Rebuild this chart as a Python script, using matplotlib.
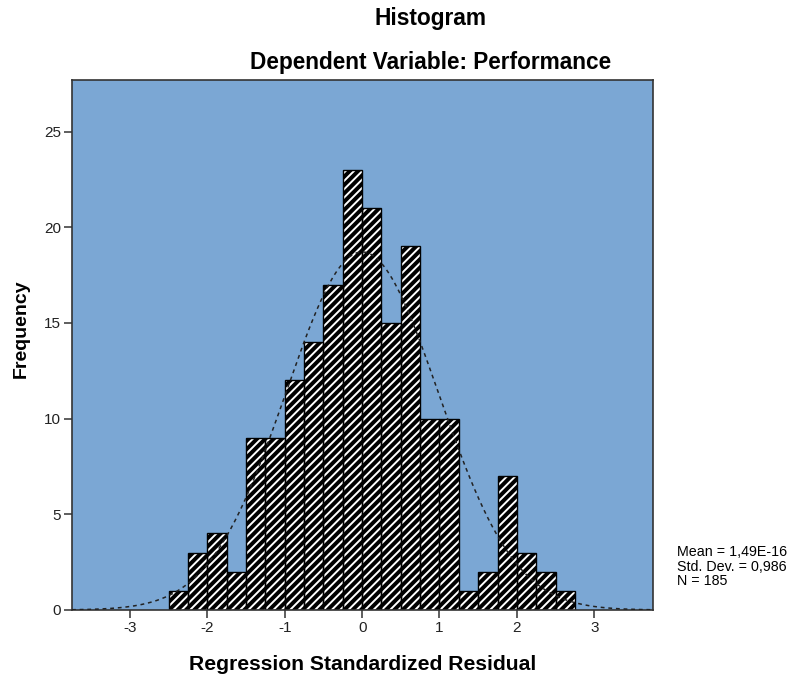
import matplotlib.pyplot as plt
import numpy as np

plt.rcParams['font.family'] = ['Liberation Sans', 'DejaVu Sans']
plt.rcParams['axes.unicode_minus'] = False
plt.rcParams['hatch.linewidth'] = 1.4

# residual histogram, bin width 0.25
bin_edges = np.arange(-2.5, 2.76, 0.25)
counts = [1, 3, 4, 2, 9, 9, 12, 14, 17, 23, 21, 15, 19, 10, 10, 1, 2, 7, 3, 2, 1]
mean, sd, n = 1.49e-16, 0.986, 185
bin_width = 0.25

fig = plt.figure(figsize=(7.95, 6.77), dpi=100)
ax = fig.add_axes([0.0906, 0.099, 0.7308, 0.7828])
ax.set_facecolor('#7ba7d4')

# black bars with thin white diagonal stripes, then black outlines on top
ax.bar(bin_edges[:-1], counts, width=bin_width, align='edge',
       facecolor='black', edgecolor='white', hatch='////', linewidth=0, zorder=2)
ax.bar(bin_edges[:-1], counts, width=bin_width, align='edge',
       fill=False, edgecolor='black', linewidth=1.0, zorder=2.5)

# normal curve scaled to counts
xs = np.linspace(-3.75, 3.75, 400)
ys = n * bin_width * np.exp(-0.5 * ((xs - mean) / sd) ** 2) / (sd * np.sqrt(2 * np.pi))
ax.plot(xs, ys, color='#222222', linestyle=(0, (2.5, 2.5)), linewidth=1.1, zorder=3)

ax.set_xlim(-3.75, 3.76)
ax.set_ylim(0, 27.7)
ax.set_xticks([-3, -2, -1, 0, 1, 2, 3])
ax.set_yticks([0, 5, 10, 15, 20, 25])
ax.tick_params(direction='out', length=6, width=1.1, pad=2, labelsize=11,
               color='#333333', labelcolor='#222222')
for s in ax.spines.values():
    s.set_color('#333333')
    s.set_linewidth(1.2)

ax.set_xlabel('Regression Standardized Residual', fontsize=15.2, fontweight='bold', labelpad=14)
ax.set_ylabel('Frequency', fontsize=14, fontweight='bold', labelpad=14)
ax.yaxis.set_label_coords(-0.072, 0.53)

fig.text(0.542, 0.973, 'Histogram', ha='center', va='center', fontsize=16.4, fontweight='bold')
fig.text(0.542, 0.908, 'Dependent Variable: Performance', ha='center', va='center',
         fontsize=16.3, fontweight='bold')
fig.text(0.851, 0.163, 'Mean = 1,49E-16\nStd. Dev. = 0,986\nN = 185', ha='left', va='center',
         fontsize=10.3, linespacing=1.05)

plt.savefig('out.png', dpi=100)
